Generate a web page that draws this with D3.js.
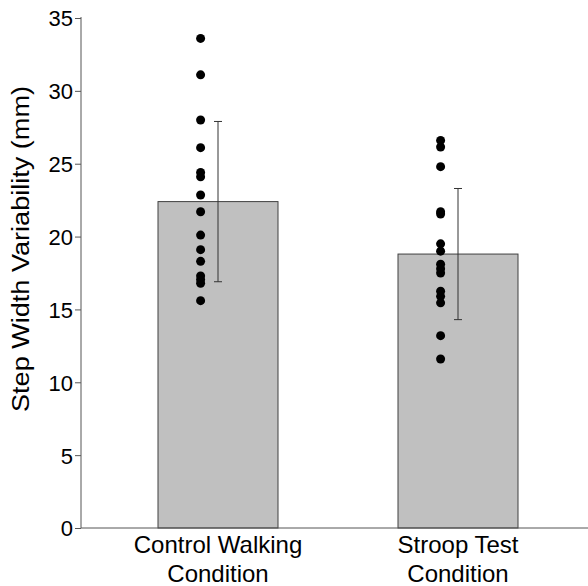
<!DOCTYPE html>
<html>
<head>
<meta charset="utf-8">
<script src="https://cdn.jsdelivr.net/npm/d3@7"></script>
<style>
  body { margin: 0; background: #fff; }
  text { font-family: "Liberation Sans", Arial, sans-serif; fill: #000; }
</style>
</head>
<body>
<div id="chart"></div>
<script>
// values
const categories = ['Control Walking|Condition', 'Stroop Test|Condition']
const means = [22.4, 18.8]
const sds = [5.5, 4.5]
const controlPoints = [33.6, 31.1, 28.0, 26.1, 24.4, 24.1, 22.85, 21.7, 20.1, 19.1, 18.3, 17.3, 17.05, 16.8, 15.6]
const stroopPoints = [26.6, 26.15, 24.8, 21.7, 21.55, 19.5, 19.0, 18.1, 17.8, 17.5, 16.25, 15.9, 15.45, 13.2, 11.6]
const yTicks = [0, 5, 10, 15, 20, 25, 30, 35]

const points = [controlPoints, stroopPoints]

const width = 588, height = 586
const svg = d3.select('#chart').append('svg')
    .attr('width', width)
    .attr('height', height)

const y = d3.scaleLinear().domain([0, 35]).range([528, 18])
const x = d3.scaleBand().domain(categories).range([98, 578]).paddingInner(0.5).paddingOuter(0.25)

// bars
svg.selectAll('rect.bar')
    .data(categories)
    .enter()
    .append('rect')
    .attr('class', 'bar')
    .attr('x', d => x(d))
    .attr('y', (d, i) => y(means[i]))
    .attr('width', x.bandwidth())
    .attr('height', (d, i) => y(0) - y(means[i]))
    .style('fill', '#c0c0c0')
    .style('stroke', '#404040')
    .style('stroke-width', 1)

// error bars
const err = svg.selectAll('g.err')
    .data(categories)
    .enter()
    .append('g')
    .attr('class', 'err')
    .attr('transform', d => `translate(${x(d) + x.bandwidth() / 2},0)`)
err.append('line')
    .attr('y1', (d, i) => y(means[i] + sds[i]))
    .attr('y2', (d, i) => y(means[i] - sds[i]))
    .style('stroke', '#333')
err.selectAll('line.cap')
    .data((d, i) => [means[i] + sds[i], means[i] - sds[i]])
    .enter()
    .append('line')
    .attr('class', 'cap')
    .attr('x1', -4).attr('x2', 4)
    .attr('y1', v => y(v)).attr('y2', v => y(v))
    .style('stroke', '#333')

// individual points
categories.forEach((c, i) => {
    svg.selectAll(null)
        .data(points[i])
        .enter()
        .append('circle')
        .attr('cx', x(c) + x.bandwidth() * 0.355)
        .attr('cy', d => y(d))
        .attr('r', 4.5)
        .style('fill', '#000')
})

// y axis
const yAxis = d3.axisLeft(y).tickValues(yTicks).tickSize(6).tickPadding(2)
const ya = svg.append('g')
    .attr('transform', 'translate(81,0)')
    .call(yAxis)
ya.selectAll('text').style('font-size', '22px').attr('dy', '0.36em')
ya.selectAll('line').style('stroke', '#555')
ya.select('.domain').attr('d', `M0,${y(35) - 1}V${y(0)}`).style('stroke', '#555')

// x axis line
svg.append('line')
    .attr('x1', 81).attr('x2', width)
    .attr('y1', y(0)).attr('y2', y(0))
    .style('stroke', '#555')

// category labels
categories.forEach(c => {
    const t = svg.append('text')
        .attr('x', x(c) + x.bandwidth() / 2)
        .attr('y', 553)
        .attr('text-anchor', 'middle')
        .style('font-size', '24px')
    c.split('|').forEach((line, j) => {
        t.append('tspan')
            .attr('x', x(c) + x.bandwidth() / 2)
            .attr('dy', j === 0 ? 0 : 29)
            .text(line)
    })
})

// y label
svg.append('text')
    .attr('transform', 'translate(29,249) rotate(-90)')
    .attr('text-anchor', 'middle')
    .attr('textLength', 326)
    .attr('lengthAdjust', 'spacingAndGlyphs')
    .style('font-size', '23px')
    .text('Step Width Variability (mm)')
</script>
</body>
</html>
